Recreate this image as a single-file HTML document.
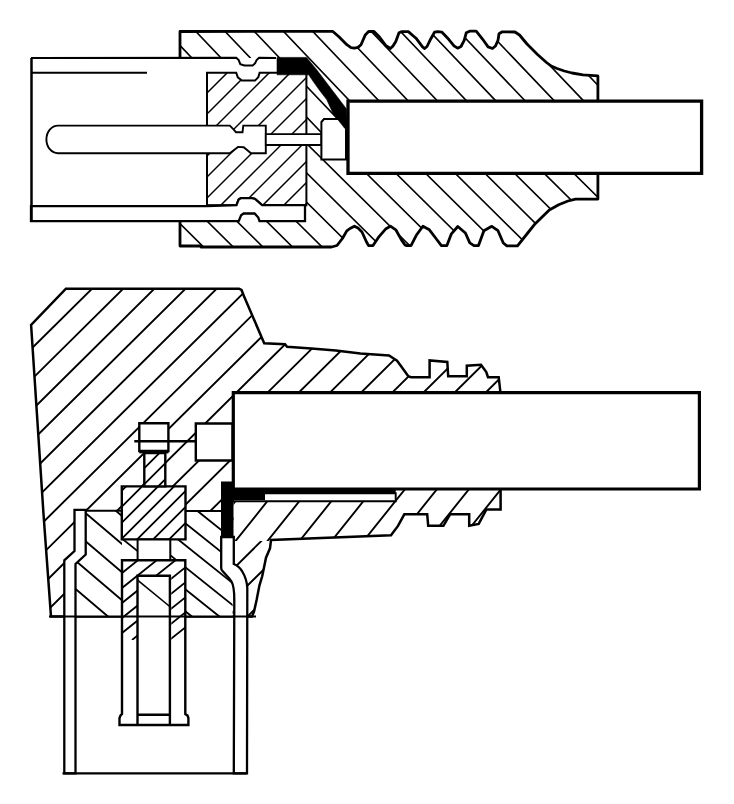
<!DOCTYPE html>
<html><head><meta charset="utf-8"><style>
html,body{margin:0;padding:0;background:#fff;}
svg{display:block;}
</style></head><body>
<svg width="734" height="804" viewBox="0 0 734 804">
<defs><clipPath id="c1"><path d="M180.0,58.0 L180.0,31.5 L332.6,31.3 L339.2,37.0 L346.8,44.7 L351.0,47.6 L354.4,48.2 L358.0,47.4 L361.0,44.7 L365.3,34.9 L368.6,31.5 L374.0,31.5 L379.5,37.0 L386.0,45.8 L390.4,48.5 L393.0,46.0 L395.8,41.4 L399.0,32.7 L401.8,31.6 L408.3,31.6 L416.0,38.2 L422.5,46.9 L424.7,48.5 L427.0,46.5 L430.0,40.3 L434.5,32.2 L437.8,31.6 L442.0,32.2 L448.7,39.3 L454.0,45.8 L457.6,48.2 L461.0,46.5 L464.2,40.3 L466.3,32.7 L469.6,31.2 L476.2,31.2 L482.7,39.3 L488.1,46.9 L492.5,48.5 L495.5,46.0 L498.0,40.3 L499.0,33.8 L502.3,31.8 L515.0,32.0 L519.5,35.0 L527.0,44.0 L537.5,54.5 L546.5,62.5 L551.2,66.0 L557.0,68.5 L564.3,71.0 L572.0,73.0 L583.0,74.9 L597.9,75.9 L597.9,199.1 L575.5,199.1 L568.0,201.0 L558.7,204.7 L549.3,210.0 L535.2,223.7 L528.1,232.5 L517.5,245.8 L506.9,245.8 L503.3,243.0 L498.0,230.7 L491.8,226.3 L483.9,230.7 L478.5,245.6 L474.0,245.6 L469.8,242.9 L465.4,233.0 L457.8,226.5 L451.2,234.2 L446.9,245.6 L441.4,245.6 L436.0,238.5 L429.4,229.8 L422.9,226.2 L416.3,235.3 L411.0,245.6 L406.5,245.6 L405.0,245.0 L401.3,239.6 L395.8,229.8 L390.4,226.2 L386.0,228.7 L378.4,237.4 L373.0,245.6 L368.6,245.6 L366.4,241.8 L362.0,232.0 L358.0,228.0 L354.4,226.2 L350.0,228.5 L346.8,230.9 L342.4,238.5 L337.0,245.5 L331.5,247.0 L201.0,247.0 L200.6,246.0 L180.0,246.0 L180.0,221.1 L306.4,221.1 L306.4,58.0 Z" clip-rule="evenodd"/></clipPath><clipPath id="c2"><rect x="0" y="0" width="734" height="137"/></clipPath><clipPath id="c3"><path d="M180.0,58.0 L180.0,31.5 L332.6,31.3 L339.2,37.0 L346.8,44.7 L351.0,47.6 L354.4,48.2 L358.0,47.4 L361.0,44.7 L365.3,34.9 L368.6,31.5 L374.0,31.5 L379.5,37.0 L386.0,45.8 L390.4,48.5 L393.0,46.0 L395.8,41.4 L399.0,32.7 L401.8,31.6 L408.3,31.6 L416.0,38.2 L422.5,46.9 L424.7,48.5 L427.0,46.5 L430.0,40.3 L434.5,32.2 L437.8,31.6 L442.0,32.2 L448.7,39.3 L454.0,45.8 L457.6,48.2 L461.0,46.5 L464.2,40.3 L466.3,32.7 L469.6,31.2 L476.2,31.2 L482.7,39.3 L488.1,46.9 L492.5,48.5 L495.5,46.0 L498.0,40.3 L499.0,33.8 L502.3,31.8 L515.0,32.0 L519.5,35.0 L527.0,44.0 L537.5,54.5 L546.5,62.5 L551.2,66.0 L557.0,68.5 L564.3,71.0 L572.0,73.0 L583.0,74.9 L597.9,75.9 L597.9,199.1 L575.5,199.1 L568.0,201.0 L558.7,204.7 L549.3,210.0 L535.2,223.7 L528.1,232.5 L517.5,245.8 L506.9,245.8 L503.3,243.0 L498.0,230.7 L491.8,226.3 L483.9,230.7 L478.5,245.6 L474.0,245.6 L469.8,242.9 L465.4,233.0 L457.8,226.5 L451.2,234.2 L446.9,245.6 L441.4,245.6 L436.0,238.5 L429.4,229.8 L422.9,226.2 L416.3,235.3 L411.0,245.6 L406.5,245.6 L405.0,245.0 L401.3,239.6 L395.8,229.8 L390.4,226.2 L386.0,228.7 L378.4,237.4 L373.0,245.6 L368.6,245.6 L366.4,241.8 L362.0,232.0 L358.0,228.0 L354.4,226.2 L350.0,228.5 L346.8,230.9 L342.4,238.5 L337.0,245.5 L331.5,247.0 L201.0,247.0 L200.6,246.0 L180.0,246.0 L180.0,221.1 L306.4,221.1 L306.4,58.0 Z" clip-rule="evenodd"/></clipPath><clipPath id="c4"><rect x="0" y="137" width="734" height="163"/></clipPath><clipPath id="c5"><path d="M207.0,72.7 L236.2,72.7 L237.8,77.3 L241.9,80.6 L255.0,80.6 L258.3,77.3 L259.6,72.7 L306.4,72.7 L306.4,205.2 L262.1,205.2 L255.0,198.9 L252.1,198.2 L240.7,198.2 L238.6,199.6 L236.5,205.2 L207.0,205.2 Z" clip-rule="evenodd"/></clipPath><clipPath id="c6"><path d="M65.9,288.7 L239.0,288.7 L241.5,290.0 L244.0,296.3 L264.2,343.2 L285.0,344.3 L287.1,346.8 L311.3,348.4 L335.8,350.4 L360.4,353.5 L389.0,355.5 L397.0,360.7 L401.3,366.6 L408.3,376.3 L411.0,377.2 L429.6,377.2 L429.6,360.4 L447.3,362.0 L448.2,376.3 L466.8,376.3 L466.8,365.7 L481.0,364.8 L486.3,372.0 L488.0,377.2 L498.7,377.2 L500.4,392.2 L500.6,489.5 L500.6,509.6 L486.3,509.6 L478.7,523.9 L469.2,525.8 L469.2,514.3 L450.1,514.3 L443.4,525.8 L428.2,525.8 L427.2,514.3 L404.3,514.3 L398.0,525.9 L391.0,535.3 L271.0,540.0 L270.0,548.3 L266.0,557.7 L264.1,567.0 L262.2,576.3 L259.4,585.6 L256.6,600.0 L254.0,611.7 L252.0,616.5 L51.0,616.5 L43.5,514.0 L31.1,325.0 Z" clip-rule="evenodd"/></clipPath><clipPath id="c7"><rect x="0" y="0" width="734" height="489"/></clipPath><clipPath id="c8"><path d="M65.9,288.7 L239.0,288.7 L241.5,290.0 L244.0,296.3 L264.2,343.2 L285.0,344.3 L287.1,346.8 L311.3,348.4 L335.8,350.4 L360.4,353.5 L389.0,355.5 L397.0,360.7 L401.3,366.6 L408.3,376.3 L411.0,377.2 L429.6,377.2 L429.6,360.4 L447.3,362.0 L448.2,376.3 L466.8,376.3 L466.8,365.7 L481.0,364.8 L486.3,372.0 L488.0,377.2 L498.7,377.2 L500.4,392.2 L500.6,489.5 L500.6,509.6 L486.3,509.6 L478.7,523.9 L469.2,525.8 L469.2,514.3 L450.1,514.3 L443.4,525.8 L428.2,525.8 L427.2,514.3 L404.3,514.3 L398.0,525.9 L391.0,535.3 L271.0,540.0 L270.0,548.3 L266.0,557.7 L264.1,567.0 L262.2,576.3 L259.4,585.6 L256.6,600.0 L254.0,611.7 L252.0,616.5 L51.0,616.5 L43.5,514.0 L31.1,325.0 Z" clip-rule="evenodd"/></clipPath><clipPath id="c9"><rect x="0" y="489" width="233.5" height="315"/></clipPath><clipPath id="c10"><path d="M65.9,288.7 L239.0,288.7 L241.5,290.0 L244.0,296.3 L264.2,343.2 L285.0,344.3 L287.1,346.8 L311.3,348.4 L335.8,350.4 L360.4,353.5 L389.0,355.5 L397.0,360.7 L401.3,366.6 L408.3,376.3 L411.0,377.2 L429.6,377.2 L429.6,360.4 L447.3,362.0 L448.2,376.3 L466.8,376.3 L466.8,365.7 L481.0,364.8 L486.3,372.0 L488.0,377.2 L498.7,377.2 L500.4,392.2 L500.6,489.5 L500.6,509.6 L486.3,509.6 L478.7,523.9 L469.2,525.8 L469.2,514.3 L450.1,514.3 L443.4,525.8 L428.2,525.8 L427.2,514.3 L404.3,514.3 L398.0,525.9 L391.0,535.3 L271.0,540.0 L270.0,548.3 L266.0,557.7 L264.1,567.0 L262.2,576.3 L259.4,585.6 L256.6,600.0 L254.0,611.7 L252.0,616.5 L51.0,616.5 L43.5,514.0 L31.1,325.0 Z" clip-rule="evenodd"/></clipPath><clipPath id="c11"><rect x="233.5" y="489" width="500.5" height="52"/></clipPath><clipPath id="c12"><path d="M65.9,288.7 L239.0,288.7 L241.5,290.0 L244.0,296.3 L264.2,343.2 L285.0,344.3 L287.1,346.8 L311.3,348.4 L335.8,350.4 L360.4,353.5 L389.0,355.5 L397.0,360.7 L401.3,366.6 L408.3,376.3 L411.0,377.2 L429.6,377.2 L429.6,360.4 L447.3,362.0 L448.2,376.3 L466.8,376.3 L466.8,365.7 L481.0,364.8 L486.3,372.0 L488.0,377.2 L498.7,377.2 L500.4,392.2 L500.6,489.5 L500.6,509.6 L486.3,509.6 L478.7,523.9 L469.2,525.8 L469.2,514.3 L450.1,514.3 L443.4,525.8 L428.2,525.8 L427.2,514.3 L404.3,514.3 L398.0,525.9 L391.0,535.3 L271.0,540.0 L270.0,548.3 L266.0,557.7 L264.1,567.0 L262.2,576.3 L259.4,585.6 L256.6,600.0 L254.0,611.7 L252.0,616.5 L51.0,616.5 L43.5,514.0 L31.1,325.0 Z" clip-rule="evenodd"/></clipPath><clipPath id="c13"><rect x="233.5" y="541" width="500.5" height="263"/></clipPath><clipPath id="c14"><path d="M85.7,510.8 L121.8,510.8 L121.8,539.4 L185.5,539.4 L185.5,511.0 L221.4,511.0 L221.4,567.0 L232.6,579.3 L232.6,616.5 L75.5,616.5 L75.5,564.0 L85.7,554.6 Z" clip-rule="evenodd"/></clipPath><clipPath id="c15"><rect x="0" y="0" width="122" height="804"/></clipPath><clipPath id="c16"><path d="M85.7,510.8 L121.8,510.8 L121.8,539.4 L185.5,539.4 L185.5,511.0 L221.4,511.0 L221.4,567.0 L232.6,579.3 L232.6,616.5 L75.5,616.5 L75.5,564.0 L85.7,554.6 Z" clip-rule="evenodd"/></clipPath><clipPath id="c17"><rect x="122" y="0" width="612" height="804"/></clipPath><clipPath id="c18"><path d="M121.8,486.4 L185.5,486.4 L185.5,539.4 L121.8,539.4 Z" clip-rule="evenodd"/></clipPath><clipPath id="c19"><path d="M144.3,453.0 L165.3,453.0 L165.3,486.4 L144.3,486.4 Z" clip-rule="evenodd"/></clipPath><clipPath id="c21"><path d="M122.3,560.0 L185.6,560.0 L185.6,640.0 L122.3,640.0 Z M137.6,576.2 L171.3,576.2 L171.3,640.0 L137.6,640.0 Z" clip-rule="evenodd"/></clipPath></defs>
<rect width="734" height="804" fill="#fff"/>
<g clip-path="url(#c2)"><g clip-path="url(#c1)"><path d="M652.74,20.00 L881.31,260.00 M623.50,20.00 L852.08,260.00 M594.27,20.00 L822.84,260.00 M565.03,20.00 L793.60,260.00 M535.79,20.00 L764.36,260.00 M506.55,20.00 L735.12,260.00 M477.31,20.00 L705.89,260.00 M448.08,20.00 L676.65,260.00 M418.84,20.00 L647.41,260.00 M389.60,20.00 L618.17,260.00 M360.36,20.00 L588.93,260.00 M331.12,20.00 L559.70,260.00 M301.89,20.00 L530.46,260.00 M272.65,20.00 L501.22,260.00 M243.41,20.00 L471.98,260.00 M214.17,20.00 L442.74,260.00 M184.93,20.00 L413.50,260.00 M155.70,20.00 L384.27,260.00 M126.46,20.00 L355.03,260.00 M97.22,20.00 L325.79,260.00 M67.98,20.00 L296.55,260.00 M38.74,20.00 L267.31,260.00 M9.50,20.00 L238.08,260.00 M-19.73,20.00 L208.84,260.00 M-48.97,20.00 L179.60,260.00 M-78.21,20.00 L150.36,260.00 M-107.45,20.00 L121.12,260.00" stroke="#000" stroke-width="1.6" fill="none"/></g></g>
<g clip-path="url(#c4)"><g clip-path="url(#c3)"><path d="M656.13,20.00 L898.56,260.00 M626.48,20.00 L868.91,260.00 M596.84,20.00 L839.26,260.00 M567.19,20.00 L809.62,260.00 M537.55,20.00 L779.97,260.00 M507.90,20.00 L750.32,260.00 M478.25,20.00 L720.68,260.00 M448.61,20.00 L691.03,260.00 M418.96,20.00 L661.38,260.00 M389.31,20.00 L631.74,260.00 M359.67,20.00 L602.09,260.00 M330.02,20.00 L572.44,260.00 M300.37,20.00 L542.80,260.00 M270.73,20.00 L513.15,260.00 M241.08,20.00 L483.51,260.00 M211.43,20.00 L453.86,260.00 M181.79,20.00 L424.21,260.00 M152.14,20.00 L394.57,260.00 M122.49,20.00 L364.92,260.00 M92.85,20.00 L335.27,260.00 M63.20,20.00 L305.63,260.00 M33.56,20.00 L275.98,260.00 M3.91,20.00 L246.33,260.00 M-25.74,20.00 L216.69,260.00 M-55.38,20.00 L187.04,260.00 M-85.03,20.00 L157.39,260.00 M-114.68,20.00 L127.75,260.00" stroke="#000" stroke-width="1.6" fill="none"/></g></g>
<path d="M180.0,58.0 L180.0,31.5 L332.6,31.3 L339.2,37.0 L346.8,44.7 L351.0,47.6 L354.4,48.2 L358.0,47.4 L361.0,44.7 L365.3,34.9 L368.6,31.5 L374.0,31.5 L379.5,37.0 L386.0,45.8 L390.4,48.5 L393.0,46.0 L395.8,41.4 L399.0,32.7 L401.8,31.6 L408.3,31.6 L416.0,38.2 L422.5,46.9 L424.7,48.5 L427.0,46.5 L430.0,40.3 L434.5,32.2 L437.8,31.6 L442.0,32.2 L448.7,39.3 L454.0,45.8 L457.6,48.2 L461.0,46.5 L464.2,40.3 L466.3,32.7 L469.6,31.2 L476.2,31.2 L482.7,39.3 L488.1,46.9 L492.5,48.5 L495.5,46.0 L498.0,40.3 L499.0,33.8 L502.3,31.8 L515.0,32.0 L519.5,35.0 L527.0,44.0 L537.5,54.5 L546.5,62.5 L551.2,66.0 L557.0,68.5 L564.3,71.0 L572.0,73.0 L583.0,74.9 L597.9,75.9 L597.9,199.1 L575.5,199.1 L568.0,201.0 L558.7,204.7 L549.3,210.0 L535.2,223.7 L528.1,232.5 L517.5,245.8 L506.9,245.8 L503.3,243.0 L498.0,230.7 L491.8,226.3 L483.9,230.7 L478.5,245.6 L474.0,245.6 L469.8,242.9 L465.4,233.0 L457.8,226.5 L451.2,234.2 L446.9,245.6 L441.4,245.6 L436.0,238.5 L429.4,229.8 L422.9,226.2 L416.3,235.3 L411.0,245.6 L406.5,245.6 L405.0,245.0 L401.3,239.6 L395.8,229.8 L390.4,226.2 L386.0,228.7 L378.4,237.4 L373.0,245.6 L368.6,245.6 L366.4,241.8 L362.0,232.0 L358.0,228.0 L354.4,226.2 L350.0,228.5 L346.8,230.9 L342.4,238.5 L337.0,245.5 L331.5,247.0 L201.0,247.0 L200.6,246.0 L180.0,246.0 L180.0,221.1" fill="none" stroke="#000" stroke-width="2.8" stroke-linejoin="round"/>
<path d="M31.0,58.0 L236.2,57.7 L238.7,60.1 L240.3,64.2 L244.4,65.5 L252.6,65.5 L255.0,63.4 L256.6,60.1 L259.1,57.7 L276.0,58.0 L276.0,72.7 L259.6,72.7 L258.3,77.3 L255.0,80.6 L241.9,80.6 L237.8,77.3 L236.2,72.7 L31.0,72.7 Z" fill="#fff" stroke="none" stroke-width="0" stroke-linejoin="miter"/>
<path d="M31.0,58.0 L236.2,57.7 L238.7,60.1 L240.3,64.2 L244.4,65.5 L252.6,65.5 L255.0,63.4 L256.6,60.1 L259.1,57.7 L276.0,58.0" fill="none" stroke="#000" stroke-width="2.0" stroke-linejoin="miter"/>
<path d="M31.0,72.7 L147.0,72.7" fill="none" stroke="#000" stroke-width="2.0" stroke-linejoin="miter"/>
<path d="M207.0,72.7 L236.2,72.7 L237.8,77.3 L241.9,80.6 L255.0,80.6 L258.3,77.3 L259.6,72.7 L306.4,72.7 L306.4,205.2 L262.1,205.2 L255.0,198.9 L252.1,198.2 L240.7,198.2 L238.6,199.6 L236.5,205.2 L207.0,205.2 Z" fill="#fff" stroke="none" stroke-width="0" stroke-linejoin="miter"/>
<g clip-path="url(#c5)"><path d="M172.00,65.00 L22.00,215.00 M193.00,65.00 L43.00,215.00 M214.00,65.00 L64.00,215.00 M235.00,65.00 L85.00,215.00 M256.00,65.00 L106.00,215.00 M277.00,65.00 L127.00,215.00 M298.00,65.00 L148.00,215.00 M319.00,65.00 L169.00,215.00 M340.00,65.00 L190.00,215.00 M361.00,65.00 L211.00,215.00 M382.00,65.00 L232.00,215.00 M403.00,65.00 L253.00,215.00 M424.00,65.00 L274.00,215.00 M445.00,65.00 L295.00,215.00 M466.00,65.00 L316.00,215.00 M487.00,65.00 L337.00,215.00" stroke="#000" stroke-width="1.5" fill="none"/></g>
<path d="M207.0,72.7 L236.2,72.7 L237.8,77.3 L241.9,80.6 L255.0,80.6 L258.3,77.3 L259.6,72.7 L306.4,72.7 L306.4,205.2 L262.1,205.2 L255.0,198.9 L252.1,198.2 L240.7,198.2 L238.6,199.6 L236.5,205.2 L207.0,205.2 Z" fill="none" stroke="#000" stroke-width="2.0" stroke-linejoin="miter"/>
<path d="M31.0,206.2 L207.0,206.0 L236.5,205.2 L238.6,199.6 L240.7,198.2 L252.1,198.2 L255.0,198.9 L262.1,205.2 L305.0,205.2 L305.0,221.1 L259.5,221.1 L258.3,217.6 L254.6,213.5 L243.6,213.5 L241.1,215.2 L238.7,221.1 L31.0,221.1 Z" fill="#fff" stroke="none" stroke-width="0" stroke-linejoin="miter"/>
<path d="M31.0,206.2 L207.0,206.0 L236.5,205.2 L238.6,199.6 L240.7,198.2 L252.1,198.2 L255.0,198.9 L262.1,205.2 L305.0,205.2 L305.0,221.1 L259.5,221.1 L258.3,217.6 L254.6,213.5 L243.6,213.5 L241.1,215.2 L238.7,221.1 L31.0,221.1 Z" fill="none" stroke="#000" stroke-width="2.3" stroke-linejoin="miter"/>
<path d="M31.5,58.0 L31.5,221.1" fill="none" stroke="#000" stroke-width="2.5" stroke-linejoin="miter"/>
<path d="M265.8,125.6 L243.3,125.6 L242.5,132.2 L236,132.2 L233.5,129.3 L229.8,125.6 L58,125.6 A11.6,13.8 0 0 0 58,153.2 L229.8,153.2 L238,146.9 L243.7,147.3 L251,153.2 L265.8,153.2 Z" fill="#fff" stroke="#000" stroke-width="1.9"/>
<path d="M265.8,134.2 L321.4,134.2 L321.4,145.0 L265.8,145.0 Z" fill="#fff" stroke="#000" stroke-width="1.8" stroke-linejoin="miter"/>
<path d="M321.4,122.0 L324.0,119.0 L346.0,119.0 L346.0,159.4 L321.4,159.4 Z" fill="#fff" stroke="#000" stroke-width="2.0" stroke-linejoin="miter"/>
<path d="M277.0,57.4 L306.5,57.4 L316.5,69.5 L346.5,109.0 L347.5,131.0 L344.6,128.2 L333.0,113.4 L326.7,99.6 L319.3,90.1 L311.9,79.6 L308.7,74.8 L277.0,74.8 Z" fill="#000" stroke="#000" stroke-width="0.6" stroke-linejoin="miter"/>
<path d="M348.0,101.2 L701.6,101.2 L701.6,173.4 L348.0,173.4 Z" fill="#fff" stroke="#000" stroke-width="3.3" stroke-linejoin="miter"/>
<g clip-path="url(#c7)"><g clip-path="url(#c6)"><path d="M-23.80,280.00 L-372.28,625.00 M7.36,280.00 L-341.12,625.00 M38.53,280.00 L-309.96,625.00 M69.69,280.00 L-278.80,625.00 M100.85,280.00 L-247.64,625.00 M132.01,280.00 L-216.47,625.00 M163.17,280.00 L-185.31,625.00 M194.33,280.00 L-154.15,625.00 M225.49,280.00 L-122.99,625.00 M256.66,280.00 L-91.83,625.00 M287.82,280.00 L-60.67,625.00 M318.98,280.00 L-29.51,625.00 M350.14,280.00 L1.66,625.00 M381.30,280.00 L32.82,625.00 M412.46,280.00 L63.98,625.00 M443.63,280.00 L95.14,625.00 M474.79,280.00 L126.30,625.00 M505.95,280.00 L157.46,625.00 M537.11,280.00 L188.63,625.00 M568.27,280.00 L219.79,625.00 M599.43,280.00 L250.95,625.00 M630.60,280.00 L282.11,625.00 M661.76,280.00 L313.27,625.00 M692.92,280.00 L344.43,625.00 M724.08,280.00 L375.60,625.00 M755.24,280.00 L406.76,625.00 M786.40,280.00 L437.92,625.00 M817.57,280.00 L469.08,625.00 M848.73,280.00 L500.24,625.00 M879.89,280.00 L531.40,625.00 M911.05,280.00 L562.57,625.00" stroke="#000" stroke-width="1.9" fill="none"/></g></g>
<g clip-path="url(#c9)"><g clip-path="url(#c8)"><path d="M-23.80,280.00 L-372.28,625.00 M7.36,280.00 L-341.12,625.00 M38.53,280.00 L-309.96,625.00 M69.69,280.00 L-278.80,625.00 M100.85,280.00 L-247.64,625.00 M132.01,280.00 L-216.47,625.00 M163.17,280.00 L-185.31,625.00 M194.33,280.00 L-154.15,625.00 M225.49,280.00 L-122.99,625.00 M256.66,280.00 L-91.83,625.00 M287.82,280.00 L-60.67,625.00 M318.98,280.00 L-29.51,625.00 M350.14,280.00 L1.66,625.00 M381.30,280.00 L32.82,625.00 M412.46,280.00 L63.98,625.00 M443.63,280.00 L95.14,625.00 M474.79,280.00 L126.30,625.00 M505.95,280.00 L157.46,625.00 M537.11,280.00 L188.63,625.00 M568.27,280.00 L219.79,625.00 M599.43,280.00 L250.95,625.00 M630.60,280.00 L282.11,625.00 M661.76,280.00 L313.27,625.00 M692.92,280.00 L344.43,625.00 M724.08,280.00 L375.60,625.00 M755.24,280.00 L406.76,625.00 M786.40,280.00 L437.92,625.00 M817.57,280.00 L469.08,625.00 M848.73,280.00 L500.24,625.00 M879.89,280.00 L531.40,625.00 M911.05,280.00 L562.57,625.00" stroke="#000" stroke-width="1.9" fill="none"/></g></g>
<g clip-path="url(#c11)"><g clip-path="url(#c10)"><path d="M-35.68,280.00 L-311.68,625.00 M-3.68,280.00 L-279.68,625.00 M28.32,280.00 L-247.68,625.00 M60.32,280.00 L-215.68,625.00 M92.32,280.00 L-183.68,625.00 M124.32,280.00 L-151.68,625.00 M156.32,280.00 L-119.68,625.00 M188.32,280.00 L-87.68,625.00 M220.32,280.00 L-55.68,625.00 M252.32,280.00 L-23.68,625.00 M284.32,280.00 L8.32,625.00 M316.32,280.00 L40.32,625.00 M348.32,280.00 L72.32,625.00 M380.32,280.00 L104.32,625.00 M412.32,280.00 L136.32,625.00 M444.32,280.00 L168.32,625.00 M476.32,280.00 L200.32,625.00 M508.32,280.00 L232.32,625.00 M540.32,280.00 L264.32,625.00 M572.32,280.00 L296.32,625.00 M604.32,280.00 L328.32,625.00 M636.32,280.00 L360.32,625.00 M668.32,280.00 L392.32,625.00 M700.32,280.00 L424.32,625.00 M732.32,280.00 L456.32,625.00 M764.32,280.00 L488.32,625.00 M796.32,280.00 L520.32,625.00 M828.32,280.00 L552.32,625.00" stroke="#000" stroke-width="1.9" fill="none"/></g></g>
<g clip-path="url(#c13)"><g clip-path="url(#c12)"><path d="M-35.92,280.00 L-384.40,625.00 M-4.76,280.00 L-353.24,625.00 M26.40,280.00 L-322.08,625.00 M57.57,280.00 L-290.92,625.00 M88.73,280.00 L-259.76,625.00 M119.89,280.00 L-228.60,625.00 M151.05,280.00 L-197.43,625.00 M182.21,280.00 L-166.27,625.00 M213.37,280.00 L-135.11,625.00 M244.54,280.00 L-103.95,625.00 M275.70,280.00 L-72.79,625.00 M306.86,280.00 L-41.63,625.00 M338.02,280.00 L-10.46,625.00 M369.18,280.00 L20.70,625.00 M400.34,280.00 L51.86,625.00 M431.51,280.00 L83.02,625.00 M462.67,280.00 L114.18,625.00 M493.83,280.00 L145.34,625.00 M524.99,280.00 L176.51,625.00 M556.15,280.00 L207.67,625.00 M587.31,280.00 L238.83,625.00 M618.47,280.00 L269.99,625.00 M649.64,280.00 L301.15,625.00 M680.80,280.00 L332.31,625.00 M711.96,280.00 L363.47,625.00 M743.12,280.00 L394.64,625.00 M774.28,280.00 L425.80,625.00 M805.44,280.00 L456.96,625.00 M836.61,280.00 L488.12,625.00 M867.77,280.00 L519.28,625.00 M898.93,280.00 L550.44,625.00" stroke="#000" stroke-width="1.9" fill="none"/></g></g>
<path d="M65.9,288.7 L239.0,288.7 L241.5,290.0 L244.0,296.3 L264.2,343.2 L285.0,344.3 L287.1,346.8 L311.3,348.4 L335.8,350.4 L360.4,353.5 L389.0,355.5 L397.0,360.7 L401.3,366.6 L408.3,376.3 L411.0,377.2 L429.6,377.2 L429.6,360.4 L447.3,362.0 L448.2,376.3 L466.8,376.3 L466.8,365.7 L481.0,364.8 L486.3,372.0 L488.0,377.2 L498.7,377.2 L500.4,392.2 L500.6,489.5 L500.6,509.6 L486.3,509.6 L478.7,523.9 L469.2,525.8 L469.2,514.3 L450.1,514.3 L443.4,525.8 L428.2,525.8 L427.2,514.3 L404.3,514.3 L398.0,525.9 L391.0,535.3 L271.0,540.0 L270.0,548.3 L266.0,557.7 L264.1,567.0 L262.2,576.3 L259.4,585.6 L256.6,600.0 L254.0,611.7 L252.0,616.5 L51.0,616.5 L43.5,514.0 L31.1,325.0 Z" fill="none" stroke="#000" stroke-width="2.5" stroke-linejoin="miter"/>
<path d="M85.7,510.8 L121.8,510.8 L121.8,539.4 L185.5,539.4 L185.5,511.0 L221.4,511.0 L221.4,567.0 L232.6,579.3 L232.6,616.5 L75.5,616.5 L75.5,564.0 L85.7,554.6 Z" fill="#fff" stroke="none" stroke-width="0" stroke-linejoin="miter"/>
<g clip-path="url(#c15)"><g clip-path="url(#c14)"><path d="M301.53,500.00 L448.59,625.00 M268.47,500.00 L415.53,625.00 M235.41,500.00 L382.47,625.00 M202.35,500.00 L349.41,625.00 M169.29,500.00 L316.35,625.00 M136.24,500.00 L283.29,625.00 M103.18,500.00 L250.24,625.00 M70.12,500.00 L217.18,625.00 M37.06,500.00 L184.12,625.00 M4.00,500.00 L151.06,625.00 M-29.06,500.00 L118.00,625.00 M-62.12,500.00 L84.94,625.00 M-95.18,500.00 L51.88,625.00 M-128.24,500.00 L18.82,625.00" stroke="#000" stroke-width="1.9" fill="none"/></g></g>
<g clip-path="url(#c17)"><g clip-path="url(#c16)"><path d="M293.75,500.00 L450.00,625.00 M266.25,500.00 L422.50,625.00 M238.75,500.00 L395.00,625.00 M211.25,500.00 L367.50,625.00 M183.75,500.00 L340.00,625.00 M156.25,500.00 L312.50,625.00 M128.75,500.00 L285.00,625.00 M101.25,500.00 L257.50,625.00 M73.75,500.00 L230.00,625.00 M46.25,500.00 L202.50,625.00 M18.75,500.00 L175.00,625.00 M-8.75,500.00 L147.50,625.00 M-36.25,500.00 L120.00,625.00 M-63.75,500.00 L92.50,625.00 M-91.25,500.00 L65.00,625.00 M-118.75,500.00 L37.50,625.00" stroke="#000" stroke-width="1.9" fill="none"/></g></g>
<path d="M85.7,510.8 L121.8,510.8" fill="none" stroke="#000" stroke-width="2" stroke-linejoin="miter"/>
<path d="M185.5,511.0 L221.4,511.0" fill="none" stroke="#000" stroke-width="2" stroke-linejoin="miter"/>
<path d="M121.8,486.4 L185.5,486.4 L185.5,539.4 L121.8,539.4 Z" fill="#fff" stroke="none" stroke-width="0" stroke-linejoin="miter"/>
<g clip-path="url(#c18)"><path d="M84.50,480.00 L19.50,545.00 M100.50,480.00 L35.50,545.00 M116.50,480.00 L51.50,545.00 M132.50,480.00 L67.50,545.00 M148.50,480.00 L83.50,545.00 M164.50,480.00 L99.50,545.00 M180.50,480.00 L115.50,545.00 M196.50,480.00 L131.50,545.00 M212.50,480.00 L147.50,545.00 M228.50,480.00 L163.50,545.00 M244.50,480.00 L179.50,545.00 M260.50,480.00 L195.50,545.00 M276.50,480.00 L211.50,545.00" stroke="#000" stroke-width="1.8" fill="none"/></g>
<path d="M121.8,486.4 L185.5,486.4 L185.5,539.4 L121.8,539.4 Z" fill="none" stroke="#000" stroke-width="2.4" stroke-linejoin="miter"/>
<path d="M144.3,453.0 L165.3,453.0 L165.3,486.4 L144.3,486.4 Z" fill="#fff" stroke="none" stroke-width="0" stroke-linejoin="miter"/>
<g clip-path="url(#c19)"><path d="M114.50,450.00 L74.50,490.00 M130.50,450.00 L90.50,490.00 M146.50,450.00 L106.50,490.00 M162.50,450.00 L122.50,490.00 M178.50,450.00 L138.50,490.00 M194.50,450.00 L154.50,490.00 M210.50,450.00 L170.50,490.00 M226.50,450.00 L186.50,490.00" stroke="#000" stroke-width="1.8" fill="none"/></g>
<path d="M144.3,453.0 L165.3,453.0 L165.3,486.4 L144.3,486.4 Z" fill="none" stroke="#000" stroke-width="2.4" stroke-linejoin="miter"/>
<path d="M139.3,423.3 L168.4,423.3 L168.4,451.0 L139.3,451.0 Z" fill="#fff" stroke="#000" stroke-width="2.4" stroke-linejoin="miter"/>
<path d="M139.3,451.8 L168.4,451.8" fill="none" stroke="#000" stroke-width="3.2" stroke-linejoin="miter"/>
<path d="M134.3,441.2 L195.8,441.2" fill="none" stroke="#000" stroke-width="2.4" stroke-linejoin="miter"/>
<path d="M195.8,423.5 L232.5,423.5 L232.5,460.5 L195.8,460.5 Z" fill="#fff" stroke="#000" stroke-width="2.4" stroke-linejoin="miter"/>
<path d="M137.6,539.4 L170.3,539.4 L170.3,560.0 L137.6,560.0 Z" fill="#fff" stroke="#000" stroke-width="2.0" stroke-linejoin="miter"/>
<path d="M122.3,560.0 L185.6,560.0 L185.6,716.0 L122.3,716.0 Z" fill="#fff" stroke="none"/>
<path d="M137.6,576.2 L171.3,576.2 L171.3,716.0 L137.6,716.0 Z" fill="#fff" stroke="none"/>
<g clip-path="url(#c21)"><path d="M88.25,555.00 L-18.00,640.00 M107.00,555.00 L0.75,640.00 M125.75,555.00 L19.50,640.00 M144.50,555.00 L38.25,640.00 M163.25,555.00 L57.00,640.00 M182.00,555.00 L75.75,640.00 M200.75,555.00 L94.50,640.00 M219.50,555.00 L113.25,640.00 M238.25,555.00 L132.00,640.00 M257.00,555.00 L150.75,640.00 M275.75,555.00 L169.50,640.00 M294.50,555.00 L188.25,640.00 M313.25,555.00 L207.00,640.00 M332.00,555.00 L225.75,640.00" stroke="#000" stroke-width="1.8" fill="none"/></g>
<path d="M137.6,580.2 L171,607.5" stroke="#000" stroke-width="1.6"/>
<path d="M122.0,560.3 L185.3,560.3 L185.3,714.0 L187.5,715.5 L188.4,718.0 L188.4,725.0 L119.5,725.0 L119.5,718.0 L120.5,715.5 L122.0,714.0 L122.0,560.3 Z" fill="none" stroke="#000" stroke-width="2.4" stroke-linejoin="miter"/>
<path d="M137.5,725.0 L137.5,575.8 L169.9,575.8 L169.9,725.0" fill="none" stroke="#000" stroke-width="2.4" stroke-linejoin="miter"/>
<path d="M137.5,714.8 L169.9,714.8" fill="none" stroke="#000" stroke-width="2.4" stroke-linejoin="miter"/>
<path d="M74.5,509.9 L85.7,509.9 L85.7,554.6 L75.5,564 L75.5,773.3 L64.3,773.3 L64.3,560.3 L74.5,551 Z" fill="#fff" stroke="#000" stroke-width="2.3"/>
<path d="M221.2,537 L233.8,537 L233.8,564 C236.5,565 240,568 242,571 C245,576 247,581 247.3,588 L247,773.3 L233.8,773.3 L234.3,600 C234.3,592 233.5,585 231.5,581.5 C229,577.5 225,574 222.5,571 C221.5,570 221.2,569 221.2,568 Z" fill="#fff" stroke="#000" stroke-width="2.3"/>
<path d="M49.0,616.5 L256.0,616.5" fill="none" stroke="#000" stroke-width="2.0" stroke-linejoin="miter"/>
<path d="M62.5,773.3 L246.8,773.3" fill="none" stroke="#000" stroke-width="2.2" stroke-linejoin="miter"/>
<path d="M233.0,489.0 L395.7,489.0 L395.7,493.5 L233.0,493.5 Z" fill="#000" stroke="none" stroke-width="0" stroke-linejoin="miter"/>
<path d="M233.0,493.2 L395.7,493.2 L395.7,501.3 L233.0,501.3 Z" fill="#fff" stroke="#000" stroke-width="1.9" stroke-linejoin="miter"/>
<path d="M221.0,481.5 L233.5,481.5 L233.5,488.5 L265.0,488.5 L265.0,500.0 L233.5,500.0 L233.5,537.0 L221.0,537.0 Z" fill="#000" stroke="none" stroke-width="0" stroke-linejoin="miter"/>
<path d="M233.3,392.7 L699.4,392.7 L699.4,489.0 L233.3,489.0 Z" fill="#fff" stroke="#000" stroke-width="3.2" stroke-linejoin="miter"/>
</svg>
</body></html>
